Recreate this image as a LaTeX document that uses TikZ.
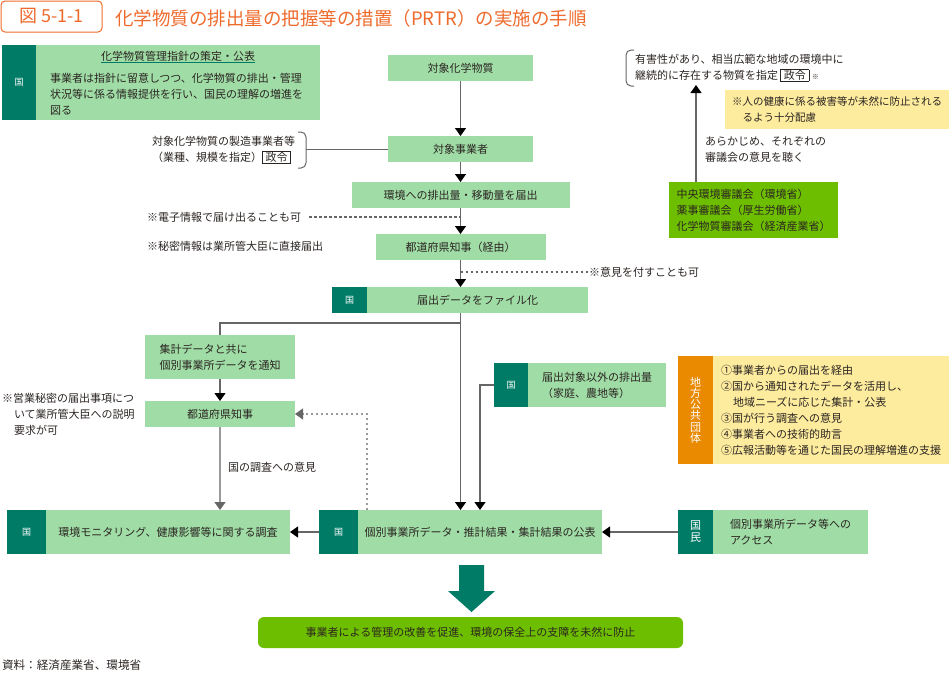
\documentclass[tikz,border=0pt]{standalone}
\usepackage{fontspec}
\setmainfont{Noto Sans CJK JP}
\usetikzlibrary{arrows.meta}
\definecolor{inkdark}{HTML}{2B2522}
\definecolor{boxgreen}{HTML}{A0DDA6}
\definecolor{badgeteal}{HTML}{007B66}
\definecolor{leafgreen}{HTML}{6EBE00}
\definecolor{noteyellow}{HTML}{FDEB9E}
\definecolor{badgeorange}{HTML}{E98A00}
\definecolor{titleorange}{HTML}{EE6B2D}
\definecolor{linegray}{HTML}{666666}
\definecolor{lightgray}{HTML}{9A9A9A}
\newcommand{\seirei}{\setlength{\fboxsep}{.4pt}\setlength{\fboxrule}{.6pt}\fbox{\kern2.5pt 政令\kern2.5pt}}
\tikzset{
  every node/.style={inner sep=0pt,outer sep=0pt,text=inkdark,font=\fontsize{11}{16}\selectfont},
  gbox/.style={fill=boxgreen,align=left},
  badge/.style={fill=badgeteal,text=white,align=center,font=\fontsize{9}{11}\selectfont},
  label/.style={align=left,anchor=west},
  flow/.style={draw=linegray,line width=1.3pt,-{Triangle[width=11pt,length=8pt,color=black]}},
  paleflow/.style={draw=lightgray,line width=1.3pt,-{Triangle[width=11pt,length=8pt,color=linegray]}},
  plainline/.style={draw=linegray,line width=1.3pt},
  dotline/.style={draw=linegray,line width=1.1pt,dash pattern=on 2.5pt off 2.5pt},
}
\begin{document}
\begin{tikzpicture}[x=1pt,y=-1pt]
\useasboundingbox (0,0) rectangle (950,673);
% heading
\node[draw=titleorange,line width=1pt,rounded corners=4pt,minimum width=101pt,minimum height=31pt,text=titleorange,font=\fontsize{18}{20}\selectfont] (figno) at (51.5,16.5) {図 5-1-1};
\node[label,text=titleorange,font=\fontsize{18.5}{20}\selectfont] (title) at (115,18) {化学物質の排出量の把握等の措置（PRTR）の実施の手順};
% guideline box
\node[badge,minimum width=34pt,minimum height=75pt] (guidebadge) at (19,82.5) {国};
\node[gbox,minimum width=284pt,minimum height=75pt] (guide) at (178,82.5) {};
\node[font=\fontsize{11}{12}\selectfont] (guidehead) at (178,56) {化学物質管理指針の策定・公表};
\draw[badgeteal,line width=.8pt] ([yshift=-1pt]guidehead.south west)--([yshift=-1pt]guidehead.south east);
\node[label] (guidetext) at (50,94) {事業者は指針に留意しつつ、化学物質の排出・管理\\状況等に係る情報提供を行い、国民の理解の増進を\\図る};
% main column
\node[gbox,minimum width=145pt,minimum height=26pt] (chem) at (460.5,68) {対象化学物質};
\node[gbox,minimum width=145pt,minimum height=26pt] (biz) at (460.5,149) {対象事業者};
\node[gbox,minimum width=218pt,minimum height=26pt] (report) at (460.5,195) {環境への排出量・移動量を届出};
\node[gbox,minimum width=170pt,minimum height=26pt] (gov) at (460.5,247) {都道府県知事（経由）};
\node[badge,minimum width=35pt,minimum height=26pt] (filebadge) at (349.5,300) {国};
\node[gbox,minimum width=221pt,minimum height=26pt] (file) at (477.5,300) {届出データをファイル化};
% left column
\node[gbox,minimum width=150pt,minimum height=44pt] (notify) at (220,357) {集計データと共に\\個別事業所データを通知};
\node[gbox,minimum width=150pt,minimum height=26pt] (pref) at (220,414) {都道府県知事};
\node[badge,minimum width=39pt,minimum height=44pt] (monbadge) at (26.5,532) {国};
\node[gbox,minimum width=244pt,minimum height=44pt] (monitor) at (168,532) {環境モニタリング、健康影響等に関する調査};
% publication row
\node[badge,minimum width=39pt,minimum height=44pt] (pubbadge) at (338.5,532) {国};
\node[gbox,minimum width=244pt,minimum height=44pt] (publish) at (480,532) {個別事業所データ・推計結果・集計結果の公表};
\node[badge,minimum width=35pt,minimum height=44pt,font=\fontsize{11}{12}\selectfont] (folkbadge) at (695.5,532) {国\\民};
\node[gbox,minimum width=155pt,minimum height=44pt] (access) at (790.5,532) {個別事業所データ等への\\アクセス};
% other emissions
\node[badge,minimum width=34pt,minimum height=44pt] (otherbadge) at (511,385) {国};
\node[gbox,minimum width=138pt,minimum height=44pt] (other) at (597,385) {届出対象以外の排出量\\（家庭、農地等）};
% local government
\node[badge,fill=badgeorange,minimum width=35pt,minimum height=108pt,font=\fontsize{11}{11.2}\selectfont] (localbadge) at (695.5,410) {地\\方\\公\\共\\団\\体};
\node[gbox,fill=noteyellow,minimum width=236pt,minimum height=108pt] (local) at (831,410) {①事業者からの届出を経由\\②国から通知されたデータを活用し、\\\hspace*{12pt}地域ニーズに応じた集計・公表\\③国が行う調査への意見\\④事業者への技術的助言\\⑤広報活動等を通じた国民の理解増進の支援};
% councils
\node[gbox,fill=leafgreen,minimum width=169pt,minimum height=56pt] (council) at (753.5,210) {中央環境審議会（環境省）\\薬事審議会（厚生労働省）\\化学物質審議会（経済産業省）};
\node[gbox,fill=noteyellow,minimum width=224pt,minimum height=39pt,font=\fontsize{10.5}{16}\selectfont] (care) at (837,109.5) {※人の健康に係る被害等が未然に防止される\\\hspace*{10.5pt}るよう十分配慮};
\node[label] (toxic) at (635,68) {有害性があり、相当広範な地域の環境中に\\継続的に存在する物質を指定 \seirei{} {\fontsize{7}{8}\selectfont ※}};
\node[label] (hear) at (705,150) {あらかじめ、それぞれの\\審議会の意見を聴く};
\coordinate (toxicfoot) at (696,85);
% notes
\node[label] (maker) at (152,150) {対象化学物質の製造事業者等\\（業種、規模を指定）\seirei};
\node[label] (digital) at (147,217) {※電子情報で届け出ることも可};
\node[label] (secret) at (147,246) {※秘密情報は業所管大臣に直接届出};
\node[label] (opinion) at (589,272) {※意見を付すことも可};
\node[label] (trade) at (2,414) {※営業秘密の届出事項につ\\\hspace*{12pt}いて業所管大臣への説明\\\hspace*{12pt}要求が可};
\node[label] (survey) at (228,467) {国の調査への意見};
\node[label,font=\fontsize{11.6}{14}\selectfont] (source) at (2,665) {資料：経済産業省、環境省};
% result
\fill[badgeteal] (459,565)--(484,565)--(484,591)--(495,591)--(471.5,612)--(448,591)--(459,591)--cycle;
\node[fill=leafgreen,rounded corners=6pt,minimum width=425pt,minimum height=31pt] (goal) at (470.5,632.5) {事業者による管理の改善を促進、環境の保全上の支障を未然に防止};
% connectors
\draw[flow] (chem)--(biz);
\draw[flow] (biz)--(report);
\draw[flow] (report)--(gov);
\draw[flow] (gov)--(file.north -| gov);
\coordinate (branch) at (file.south -| gov);
\draw[plainline] (branch)--++(0,10)-|(notify.north);
\draw[flow] (branch)--(publish.north -| gov);
\draw[flow] (notify)--(pref);
\draw[paleflow] (pref)--(monitor.north -| pref);
\draw[flow] (pubbadge)--(monitor);
\draw[flow] (folkbadge)--(publish);
\coordinate (otherdrop) at (480,510);
\draw[flow] (otherbadge.west)-|(otherdrop);
\coordinate (pubdash) at (367,510);
\draw[dotline,draw=lightgray,-{Triangle[width=11pt,length=8pt,color=linegray]}] (pubdash)|-(pref.east);
\draw[dotline,shorten <=8pt] (digital.east)--(digital.east -| gov);
\draw[dotline] (opinion.west -| gov)--(opinion.west);
\draw[flow] (council.north -| toxicfoot)--(toxicfoot);
% brackets
\draw[linegray,line width=1pt,rounded corners=5pt] (298,132)--(306,132)--(306,168)--(298,168);
\coordinate (makerbrace) at (306,149);
\draw[plainline,line width=1pt] (makerbrace)--(biz.west);
\draw[linegray,line width=1pt,rounded corners=5pt] (634,50)--(626,50)--(626,86)--(634,86);
\end{tikzpicture}
\end{document}
